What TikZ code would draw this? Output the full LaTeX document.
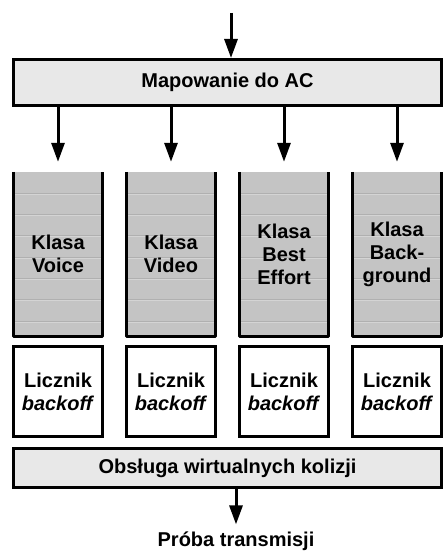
\documentclass[tikz,border=0pt]{standalone}
\usepackage{fontspec}
\setmainfont{Liberation Sans}
\usepackage{tikz}
\usetikzlibrary{arrows.meta,positioning,calc}
\definecolor{bargray}{HTML}{E8E8E8}
\definecolor{queuegray}{HTML}{C4C4C4}
\definecolor{stripedark}{HTML}{B0B0B0}
\definecolor{stripelight}{HTML}{D4D4D4}
\tikzset{
  acbar/.style={draw=black,fill=bargray,line width=3pt,
                minimum width=428pt,inner sep=0pt,
                font=\fontsize{20}{23}\selectfont\bfseries},
  queuebox/.style={fill=queuegray,minimum width=89pt,minimum height=164pt,
                   inner sep=0pt,align=center,
                   font=\fontsize{20}{23}\selectfont\bfseries,
                   path picture={
                     \foreach \k in {1,...,7}{
                       \draw[stripedark,line width=1pt]
                         ([yshift={-\k*21.3pt}]path picture bounding box.north west)
                         -- ([yshift={-\k*21.3pt}]path picture bounding box.north east);
                       \draw[stripelight,line width=1pt]
                         ([yshift={-\k*21.3pt-1pt}]path picture bounding box.north west)
                         -- ([yshift={-\k*21.3pt-1pt}]path picture bounding box.north east);
                     }}},
  queuewall/.style={line width=3pt,line join=round},
  counterbox/.style={draw=black,fill=white,line width=3pt,
                     minimum width=89pt,minimum height=90pt,inner sep=0pt,
                     align=center,font=\fontsize{20}{23}\selectfont\bfseries},
  flowarr/.style={-{Triangle[length=19pt,width=13pt]},line width=3pt},
  outlabel/.style={inner sep=0pt,font=\fontsize{20}{23}\selectfont\bfseries}
}

\begin{document}
\begin{tikzpicture}[x=1pt,y=-1pt]
  \useasboundingbox (0,0) rectangle (443,551);
  \coordinate (src) at (231,13);
  \node[acbar,minimum height=46pt] (map) at (227.5,82.5) {Mapowanie do AC};
  \node[queuebox] (q1) at (58,254) {Klasa\\Voice};
  \node[queuebox] (q2) at (171,254) {Klasa\\Video};
  \node[queuebox] (q3) at (284,254) {Klasa\\Best\\Effort};
  \node[queuebox] (q4) at (397,254) {Klasa\\Back-\\ground};
  \draw[queuewall] (q1.north west) -- (q1.south west) -- (q1.south east) -- (q1.north east);
  \draw[queuewall] (q2.north west) -- (q2.south west) -- (q2.south east) -- (q2.north east);
  \draw[queuewall] (q3.north west) -- (q3.south west) -- (q3.south east) -- (q3.north east);
  \draw[queuewall] (q4.north west) -- (q4.south west) -- (q4.south east) -- (q4.north east);
  \node[counterbox] (c1) at (58,391.5) {Licznik\\\textit{backoff}};
  \node[counterbox] (c2) at (171,391.5) {Licznik\\\textit{backoff}};
  \node[counterbox] (c3) at (284,391.5) {Licznik\\\textit{backoff}};
  \node[counterbox] (c4) at (397,391.5) {Licznik\\\textit{backoff}};
  \node[acbar,minimum height=39pt] (coll) at (227.5,468) {Obsługa wirtualnych kolizji};
  \node[outlabel] (try) at (236,541) {Próba transmisji};
  % arrows
  \draw[flowarr] (src) -- (src |- map.north);
  \draw[flowarr] (map.south -| q1.north) -- ([yshift=10pt]q1.north);
  \draw[flowarr] (map.south -| q2.north) -- ([yshift=10pt]q2.north);
  \draw[flowarr] (map.south -| q3.north) -- ([yshift=10pt]q3.north);
  \draw[flowarr] (map.south -| q4.north) -- ([yshift=10pt]q4.north);
  \draw[flowarr] (coll.south -| try.north) -- ([yshift=7pt]try.north);
\end{tikzpicture}
\end{document}
